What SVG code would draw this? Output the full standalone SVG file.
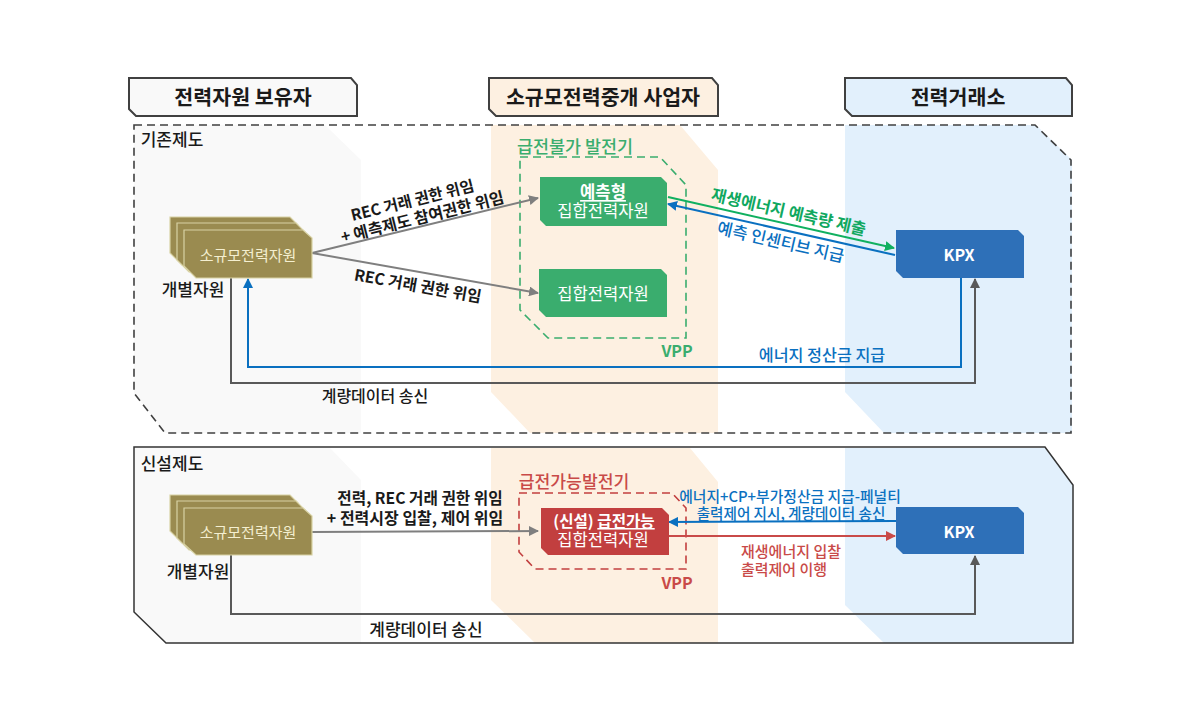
<svg xmlns="http://www.w3.org/2000/svg" width="1200" height="722" viewBox="0 0 1200 722">
<style>
text{font-family:"Noto Sans CJK KR","Noto Sans",sans-serif;text-anchor:middle;dominant-baseline:central}
.hd{font-size:20.6px;font-weight:700;fill:#1a1a1a}
.hb{stroke:#404040;stroke-width:2}
.lb{font-size:15.5px;font-weight:700;fill:#1a1a1a}
.sm{font-size:17px;font-weight:500;fill:#1a1a1a}
.w{font-size:16.6px;fill:#fff}
.wb{font-size:16.6px;fill:#fff;font-weight:700}
.res{fill:#9a8b50;stroke:#d8d2a4;stroke-width:1.2}
.c{fill:none;stroke-width:2}
.gr{stroke:#7f7f7f}.dk{stroke:#595959}.bl{stroke:#0a70c0}.gn{stroke:#10b060}.rd{stroke:#c94a48}
.g{fill:#3aad6e}.r{fill:#c23f3f}.k{fill:#2e70b8}
.tb{fill:#0a70c0;font-weight:500}.tr{fill:#c94a48;font-weight:500}
</style>
<defs>
<marker id="mg" viewBox="0 0 10 10" refX="9" refY="5" markerWidth="10" markerHeight="10" markerUnits="userSpaceOnUse" orient="auto"><path d="M0 0L10 5L0 10Z" fill="#7f7f7f"/></marker>
<marker id="md" viewBox="0 0 10 10" refX="9" refY="5" markerWidth="10" markerHeight="10" markerUnits="userSpaceOnUse" orient="auto"><path d="M0 0L10 5L0 10Z" fill="#595959"/></marker>
<marker id="mb" viewBox="0 0 10 10" refX="9" refY="5" markerWidth="10" markerHeight="10" markerUnits="userSpaceOnUse" orient="auto"><path d="M0 0L10 5L0 10Z" fill="#0a70c0"/></marker>
<marker id="mn" viewBox="0 0 10 10" refX="9" refY="5" markerWidth="10" markerHeight="10" markerUnits="userSpaceOnUse" orient="auto"><path d="M0 0L10 5L0 10Z" fill="#10b060"/></marker>
<marker id="mr" viewBox="0 0 10 10" refX="9" refY="5" markerWidth="10" markerHeight="10" markerUnits="userSpaceOnUse" orient="auto"><path d="M0 0L10 5L0 10Z" fill="#c94a48"/></marker>
</defs>
<rect width="1200" height="722" fill="#fff"/>
<g id="bands">
<path d="M134 125H325L361 160V433H165L134 393Z" fill="#f9f9f9"/>
<path d="M491 125H680L718 170V433H530L491 392Z" fill="#fdf0e1"/>
<path d="M845 125H1036L1072 160V433H884L845 392Z" fill="#e2f0fc"/>
<path d="M134 448H330L361 480V643H166L134 612Z" fill="#f9f9f9"/>
<path d="M491 448H690L718 482V643H535L491 600Z" fill="#fdf0e1"/>
<path d="M845 448H1045L1073 485V643H884L845 605Z" fill="#e2f0fc"/>
</g>
<g id="header-owner"><path class="hb" d="M129 78H351L357 85V116H136L129 109Z" fill="#f9f9f9"/><text class="hd" x="243" y="96">전력자원 보유자</text></g>
<g id="header-broker"><path class="hb" d="M489 78H712L718 85V116H496L489 109Z" fill="#fdf0e1"/><text class="hd" x="603" y="96">소규모전력중개 사업자</text></g>
<g id="header-kpx"><path class="hb" d="M845 78H1066L1072 85V116H852L845 109Z" fill="#e2f0fc"/><text class="hd" x="958" y="96">전력거래소</text></g>
<g id="frame-old"><path d="M134 125H1035L1071 160V433H165L134 393Z" fill="none" stroke="#404040" stroke-width="1.6" stroke-dasharray="8 5"/><text class="sm" x="172" y="138">기존제도</text></g>
<g id="frame-new"><path d="M134 447H1045L1073 485V643H166L134 612Z" fill="none" stroke="#333" stroke-width="1.5"/><text class="sm" x="172" y="462">신설제도</text></g>
<g id="vpp-old"><path d="M520 157H660L686 185V338H548L520 310Z" fill="none" stroke="#3aad6e" stroke-width="1.6" stroke-dasharray="8 5"/><text x="575" y="145" style="font-size:17.4px;font-weight:500;fill:#3aad6e">급전불가 발전기</text><text x="677" y="350" style="font-size:16px;font-weight:700;fill:#3aad6e">VPP</text></g>
<g id="vpp-new"><path d="M519 493H672L686 508V569H535L519 552Z" fill="none" stroke="#c23f3f" stroke-width="1.6" stroke-dasharray="8 5"/><text x="574" y="480" style="font-size:17.2px;font-weight:500;fill:#c94a48">급전가능발전기</text><text x="677" y="582" style="font-size:16px;font-weight:700;fill:#c94a48">VPP</text></g>
<g id="connectors">
<path class="c gr" d="M312 253L538 198" marker-end="url(#mg)"/>
<path class="c gr" d="M312 253L538 293" marker-end="url(#mg)"/>
<path class="c gn" d="M668 197L894 248" marker-end="url(#mn)"/>
<path class="c bl" d="M895 255L668 204" marker-end="url(#mb)"/>
<path class="c bl" d="M961 278V367H248V279" marker-end="url(#mb)"/>
<path class="c dk" d="M231 278V383H975V279" marker-end="url(#md)"/>
<path class="c gr" d="M312 532L538 531" marker-end="url(#mg)"/>
<path class="c bl" d="M896 521L669 522" marker-end="url(#mb)"/>
<path class="c rd" d="M669 536L895 536" marker-end="url(#mr)"/>
<path class="c dk" d="M231 555V614H975V556" marker-end="url(#md)"/>
</g>
<g id="resource-old">
<path class="res" d="M170 217H290L298 225V265H182L170 253Z"/>
<path class="res" d="M177 223H296L305 232V272H189L177 260Z"/>
<path class="res" d="M184 230H303L312 238V278H196L184 266Z"/>
<text x="248" y="254" style="font-size:15px;fill:#f4efd0">소규모전력자원</text>
<text class="sm" x="193" y="288">개별자원</text>
</g>
<g id="resource-new">
<path class="res" d="M170 495H290L298 503V543H182L170 531Z"/>
<path class="res" d="M177 501H296L305 510V550H189L177 538Z"/>
<path class="res" d="M184 508H303L312 516V555H196L184 544Z"/>
<text x="248" y="531" style="font-size:15px;fill:#f4efd0">소규모전력자원</text>
<text class="sm" x="198" y="570">개별자원</text>
</g>
<g id="node-forecast"><path class="g" d="M540 177H661L667 183V226H546L540 220Z"/><text class="wb" x="603" y="191" text-decoration="underline">예측형</text><text class="w" x="603" y="210">집합전력자원</text></g>
<g id="node-agg"><path class="g" d="M539 269H661L667 275V317H546L539 310Z"/><text class="w" x="603" y="293">집합전력자원</text></g>
<g id="node-new"><path class="r" d="M541 508H662L669 515V555H548L541 548Z"/><text class="wb" x="604" y="520" style="font-size:15.6px">(신설) <tspan text-decoration="underline">급전가능</tspan></text><text class="w" x="603" y="539">집합전력자원</text></g>
<g id="node-kpx-old"><path class="k" d="M896 230H1018L1024 236V278H903L896 271Z"/><text class="wb" x="959" y="254" style="font-size:16px">KPX</text></g>
<g id="node-kpx-new"><path class="k" d="M896 507H1018L1024 513V554H903L896 547Z"/><text class="wb" x="959" y="531" style="font-size:16px">KPX</text></g>
<g id="labels">
<text class="lb" transform="translate(412 199) rotate(-14)">REC 거래 권한 위임</text>
<text class="lb" style="font-size:16px" transform="translate(422 216) rotate(-14)">+ 예측제도 참여권한 위임</text>
<text class="lb" style="font-size:15.8px" transform="translate(418 285) rotate(10)">REC 거래 권한 위임</text>
<text class="sm" style="font-size:16px" x="375" y="395">계량데이터 송신</text>
<text style="font-size:16.4px;font-weight:700;fill:#10a860" transform="translate(789 211) rotate(13)">재생에너지 예측량 제출</text>
<text class="tb" style="font-size:16.6px" transform="translate(781 241) rotate(13)">예측 인센티브 지급</text>
<text class="tb" style="font-size:16.2px" x="822" y="354">에너지 정산금 지급</text>
<text class="lb" style="font-size:15.7px" x="420" y="497">전력, REC 거래 권한 위임</text>
<text class="lb" style="font-size:16px" x="415" y="517">+ 전력시장 입찰, 제어 위임</text>
<text class="sm" x="426" y="628">계량데이터 송신</text>
<text class="tb" style="font-size:14.8px" x="790" y="495">에너지+CP+부가정산금 지급-페널티</text>
<text class="tb" style="font-size:14.6px" x="791" y="512">출력제어 지시, 계량데이터 송신</text>
<text class="tr" style="font-size:15px" x="791" y="550">재생에너지 입찰</text>
<text class="tr" style="font-size:15px" x="784" y="568">출력제어 이행</text>
</g>
</svg>
